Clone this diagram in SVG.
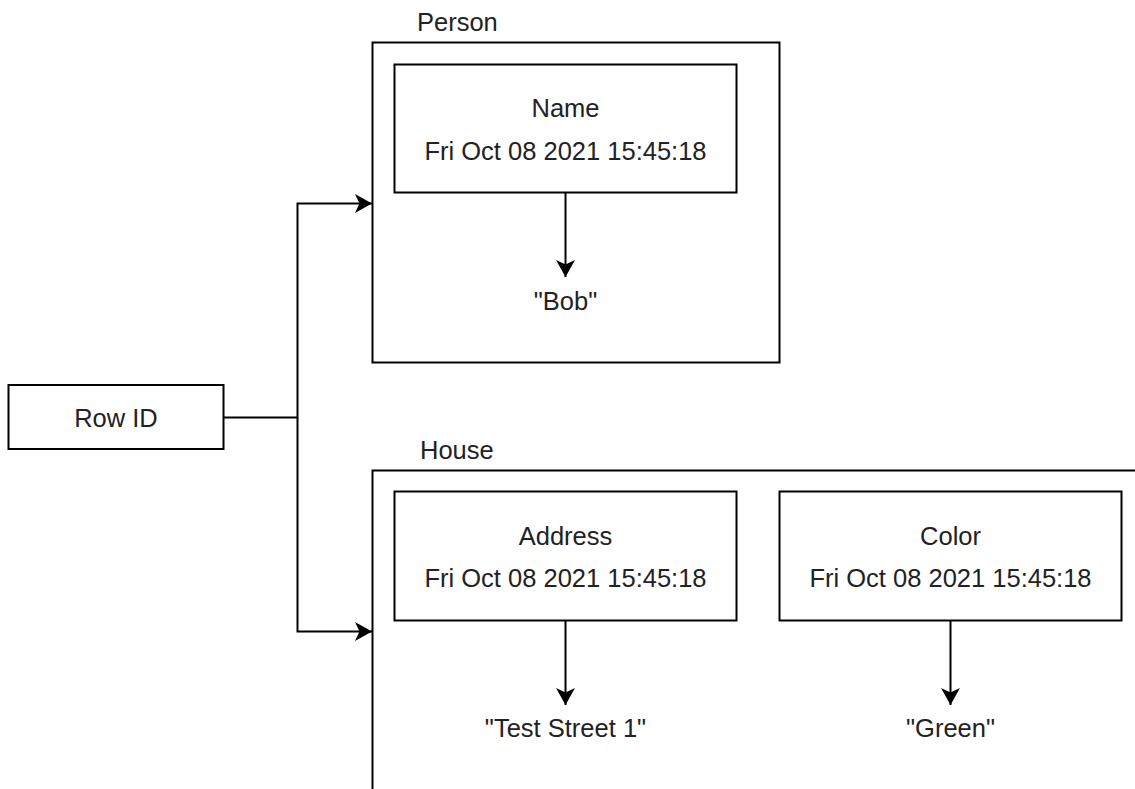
<svg xmlns="http://www.w3.org/2000/svg" width="1135" height="789" viewBox="0 0 1135 789">
<style>
.box{fill:#fff;stroke:#000;stroke-width:2}
.cont{fill:none;stroke:#000;stroke-width:2}
.t{font-family:"Liberation Sans",Arial,sans-serif;font-size:25.5px;fill:#222;text-anchor:middle}
.tl{font-family:"Liberation Sans",Arial,sans-serif;font-size:25.5px;fill:#222}
.edge{fill:none;stroke:#000;stroke-width:2}
</style>
<defs>
<marker id="arr" markerUnits="userSpaceOnUse" markerWidth="20" markerHeight="22" viewBox="-18 -11 20 22" refX="0" refY="0" orient="auto">
<path d="M0,0 L-17,-9.5 L-12.5,0 L-17,9.5 Z" fill="#000"/>
</marker>
</defs>
<rect width="1135" height="789" fill="#fff"/>
<g id="person">
<rect class="cont" x="372.5" y="42.5" width="407" height="320"/>
<text class="tl" x="417" y="30.5">Person</text>
</g>
<g id="house">
<path class="cont" d="M1140,470.5 H372.5 V795"/>
<text class="tl" x="420" y="459">House</text>
</g>
<g id="rowid">
<rect class="box" x="8.5" y="385" width="215" height="64"/>
<text class="t" x="116" y="426.5">Row ID</text>
</g>
<g id="name">
<rect class="box" x="394.5" y="64.5" width="342" height="128"/>
<text class="t" x="565.5" y="116.5">Name</text>
<text class="t" x="565.5" y="159.5">Fri Oct 08 2021 15:45:18</text>
</g>
<g id="bob">
<text class="t" x="565.5" y="309.5">"Bob"</text>
</g>
<g id="address">
<rect class="box" x="394.5" y="491.5" width="342" height="129"/>
<text class="t" x="565.5" y="545">Address</text>
<text class="t" x="565.5" y="587">Fri Oct 08 2021 15:45:18</text>
</g>
<g id="teststreet">
<text class="t" x="565.5" y="737">"Test Street 1"</text>
</g>
<g id="color">
<rect class="box" x="779.5" y="491.5" width="342" height="129"/>
<text class="t" x="950.5" y="545">Color</text>
<text class="t" x="950.5" y="587">Fri Oct 08 2021 15:45:18</text>
</g>
<g id="green">
<text class="t" x="950.5" y="737">"Green"</text>
</g>
<g id="connectors">
<path class="edge" d="M223.5,417.5 H297.5 V203.5 H372" marker-end="url(#arr)"/>
<path class="edge" d="M297.5,417.5 V631.5 H372" marker-end="url(#arr)"/>
<path class="edge" d="M565.5,192.5 V277" marker-end="url(#arr)"/>
<path class="edge" d="M565.5,620.5 V705" marker-end="url(#arr)"/>
<path class="edge" d="M950.5,620.5 V705" marker-end="url(#arr)"/>
</g>
</svg>
